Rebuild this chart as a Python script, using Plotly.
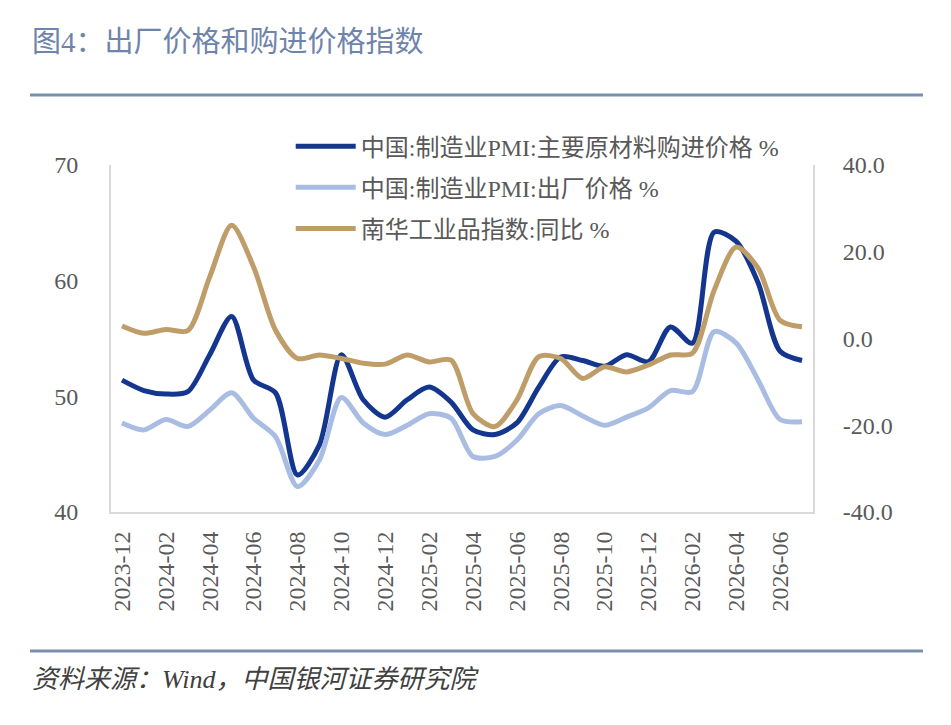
#!/usr/bin/env python3
# -*- coding: utf-8 -*-

import plotly.graph_objects as go

# monthly categories (x axis)
months = ['2023-12', '2024-01', '2024-02', '2024-03', '2024-04', '2024-05',
          '2024-06', '2024-07', '2024-08', '2024-09', '2024-10', '2024-11',
          '2024-12', '2025-01', '2025-02', '2025-03', '2025-04', '2025-05',
          '2025-06', '2025-07', '2025-08', '2025-09', '2025-10', '2025-11',
          '2025-12', '2026-01', '2026-02', '2026-03', '2026-04', '2026-05',
          '2026-06', '2026-07']

# PMI purchase price of main raw materials (left axis)
pmi_input = [51.4, 50.5, 50.2, 50.4, 53.6, 56.9, 51.4, 50.3, 43.2, 45.8,
             53.6, 49.7, 48.2, 49.7, 50.8, 49.5, 47.1, 46.7, 47.7, 50.8,
             53.4, 53.1, 52.6, 53.6, 53.0, 56.0, 54.6, 64.2, 63.4, 59.8,
             53.9, 53.1]

# PMI output price (left axis)
pmi_output = [47.7, 47.1, 48.0, 47.4, 48.8, 50.3, 48.1, 46.5, 42.2, 44.5,
              49.9, 47.7, 46.7, 47.5, 48.5, 48.1, 44.8, 44.8, 46.2, 48.5,
              49.2, 48.3, 47.5, 48.2, 49.0, 50.5, 50.4, 55.6, 54.6, 51.4,
              48.0, 47.8]

# Nanhua industrial index, yoy % (right axis)
nanhua_yoy = [2.9, 1.2, 2.1, 1.8, 14.2, 26.1, 16.5, 1.9, -4.6, -3.8,
              -4.6, -5.7, -5.9, -3.8, -5.4, -5.0, -17.3, -20.3, -14.2, -4.2,
              -4.6, -9.2, -6.5, -7.7, -6.1, -3.8, -3.4, 11.2, 21.1, 16.2,
              4.2, 2.7]

series_names = ['中国:制造业PMI:主要原材料购进价格 %',
                '中国:制造业PMI:出厂价格 %',
                '南华工业品指数:同比 %']
series_colors = ['#14368f', '#a9bde3', '#bf9d69']

left_ticks = [40, 50, 60, 70]
right_ticks = [-40, -20, 0, 20, 40]

FONT = 'Liberation Serif, Noto Sans CJK SC, serif'
GRAY = '#595959'
RULE = '#7a8fb0'
BOX = '#d9d9d9'

fig = go.Figure()
for vals, name, color, yax in zip([pmi_input, pmi_output, nanhua_yoy],
                                  series_names, series_colors,
                                  ['y', 'y', 'y2']):
    fig.add_trace(go.Scatter(x=months, y=vals, name=name, mode='lines',
                             yaxis=yax, legendgroup=name,
                             line=dict(color=color, width=5, shape='spline',
                                       smoothing=0.8)))

fig.update_layout(
    width=951, height=725,
    margin=dict(l=103, r=146, t=157, b=221),
    plot_bgcolor='white', paper_bgcolor='white',
    font=dict(family=FONT, size=24, color=GRAY),
    showlegend=True,
    legend=dict(x=0.256, y=1.118, xanchor='left', yanchor='top',
                bgcolor='rgba(0,0,0,0)', font=dict(size=24, color=GRAY),
                tracegroupgap=7, itemwidth=60),
    xaxis=dict(type='category', categoryorder='array', categoryarray=months,
               range=[-0.5, len(months) - 0.5],
               tickmode='array', tickvals=months[::2], ticktext=months[::2],
               tickangle=-90, tickfont=dict(size=24, color=GRAY),
               showline=True, linecolor=BOX, linewidth=2,
               showgrid=False, ticks='', ticklabelstandoff=8),
    yaxis=dict(range=[40, 70], tickvals=left_ticks, showgrid=False,
               showline=True, linecolor=BOX, linewidth=2,
               zeroline=False, ticks='', ticklabelstandoff=26,
               tickfont=dict(size=24, color=GRAY)),
    yaxis2=dict(range=[-40, 40], tickmode='array', tickvals=right_ticks,
                ticktext=[f'{v:.1f}' for v in right_ticks],
                overlaying='y', side='right', showgrid=False,
                showline=True, linecolor=BOX, linewidth=2,
                zeroline=False, ticks='', ticklabelstandoff=23,
                tickfont=dict(size=24, color=GRAY)),
)

# title and source note
fig.add_annotation(text='图4：出厂价格和购进价格指数', xref='paper', yref='paper',
                   x=-0.1154, y=1.3545, xanchor='left', yanchor='middle',
                   showarrow=False,
                   font=dict(size=29, color='#6e84aa', family=FONT))
fig.add_annotation(text='资料来源：Wind，中国银河证券研究院', xref='paper',
                   yref='paper', x=-0.1154, y=-0.484, xanchor='left',
                   yanchor='middle', showarrow=False,
                   font=dict(size=26, color='#404040', family=FONT,
                             style='italic'))

# horizontal rules at top and bottom
for ry in [1.2017, -0.4006]:
    fig.add_shape(type='line', xref='paper', yref='paper', x0=-0.1154,
                  x1=1.1567, y0=ry, y1=ry, line=dict(color=RULE, width=3))

fig.write_html('out.html')
